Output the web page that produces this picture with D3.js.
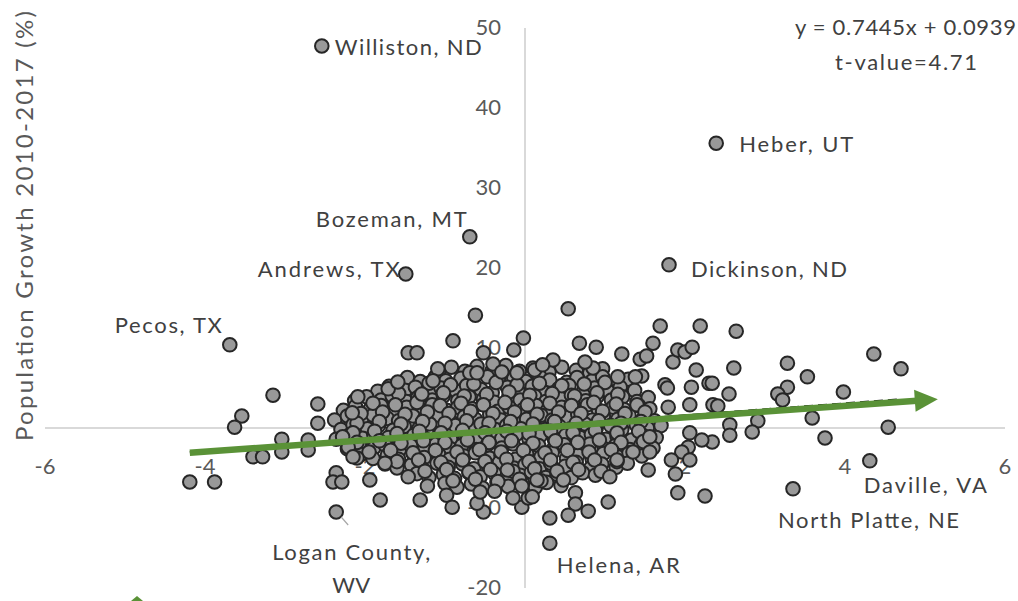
<!DOCTYPE html>
<html>
<head>
<meta charset="utf-8">
<script src="https://cdn.jsdelivr.net/npm/d3@7"></script>
<style>
body { margin: 0; background: #fff; }
svg { display: block; font-family: Lato, "Open Sans", sans-serif; }
</style>
</head>
<body>
<svg id="chart"></svg>
<script>
// tick labels
const xTicks = [-6, -4, -2, 0, 2, 4, 6];
const yTicks = [-20, -10, 0, 10, 20, 30, 40, 50];

// dense middle of the cloud, read row by row (x = employment change, y = population growth %)
const corePoints = [
  [-1.08,7.0],[-0.92,7.6],[-0.75,7.1],[-0.6,7.7],[-0.41,7.2],[-0.24,7.8],[-0.07,7.1],[0.1,7.5],[0.3,7.0],[0.46,7.6],[0.64,7.2],[0.81,6.9],[0.97,7.4],
  [-1.47,6.3],[-1.31,5.8],[-1.12,6.4],[-0.99,5.9],[-0.8,6.2],[-0.66,5.7],[-0.47,6.4],[-0.33,5.9],[-0.14,6.2],[0.01,5.8],[0.18,6.5],[0.31,6.0],[0.52,5.7],[0.65,6.3],[0.84,5.9],[0.97,6.4],[1.16,5.8],[1.29,6.1],
  [-1.84,4.6],[-1.7,5.2],[-1.5,4.7],[-1.37,5.1],[-1.19,4.5],[-1.05,5.0],[-0.86,4.6],[-0.73,5.3],[-0.55,4.8],[-0.41,4.4],[-0.22,5.1],[-0.09,4.7],[0.09,5.2],[0.23,4.5],[0.42,4.9],[0.55,5.3],[0.73,4.6],[0.87,5.0],[1.05,4.5],[1.19,5.1],[1.37,4.7],
  [-2.13,3.4],[-1.98,3.9],[-1.8,3.5],[-1.66,4.0],[-1.48,3.3],[-1.34,3.8],[-1.16,3.5],[-1.02,4.0],[-0.84,3.4],[-0.7,3.9],[-0.52,3.6],[-0.38,3.2],[-0.2,3.9],[-0.06,3.5],[0.12,4.0],[0.26,3.3],[0.44,3.7],[0.58,4.1],[0.76,3.4],[0.9,3.9],[1.08,3.5],[1.22,3.9],[1.4,3.3],[1.54,3.8],
  [-2.27,2.2],[-2.12,2.7],[-1.94,2.3],[-1.8,2.8],[-1.62,2.1],[-1.48,2.6],[-1.3,2.3],[-1.16,2.9],[-0.98,2.2],[-0.84,2.6],[-0.66,2.4],[-0.52,2.9],[-0.34,2.1],[-0.2,2.6],[-0.02,2.3],[0.14,2.8],[0.28,2.2],[0.46,2.6],[0.6,2.4],[0.78,2.9],[0.92,2.2],[1.1,2.6],[1.24,2.3],[1.42,2.8],[1.56,2.4],
  [-2.38,1.0],[-2.22,1.5],[-2.04,1.1],[-1.9,1.6],[-1.72,1.2],[-1.58,0.9],[-1.4,1.5],[-1.26,1.1],[-1.08,1.6],[-0.94,1.0],[-0.76,1.4],[-0.62,1.1],[-0.44,1.7],[-0.3,1.0],[-0.12,1.4],[0.02,1.1],[0.2,1.6],[0.34,1.0],[0.52,1.3],[0.66,1.7],[0.84,1.0],[0.98,1.5],[1.16,1.1],[1.3,1.6],[1.48,1.2],[1.62,0.9],
  [-2.3,-0.2],[-2.15,0.4],[-1.97,-0.1],[-1.83,0.3],[-1.65,-0.3],[-1.51,0.2],[-1.33,-0.1],[-1.19,0.5],[-1.01,-0.2],[-0.87,0.3],[-0.69,0.0],[-0.55,0.5],[-0.37,-0.2],[-0.23,0.3],[-0.05,-0.1],[0.11,0.4],[0.25,-0.2],[0.43,0.2],[0.57,-0.1],[0.75,0.5],[0.89,0.0],[1.07,0.3],[1.21,-0.2],[1.39,0.4],[1.53,0.0],[1.7,0.3],
  [-2.36,-1.4],[-2.2,-0.9],[-2.03,-1.3],[-1.89,-0.8],[-1.71,-1.2],[-1.57,-1.5],[-1.39,-0.9],[-1.25,-1.3],[-1.07,-0.8],[-0.93,-1.4],[-0.75,-1.0],[-0.61,-1.5],[-0.43,-0.9],[-0.29,-1.3],[-0.11,-0.8],[0.05,-1.4],[0.19,-1.0],[0.37,-1.5],[0.51,-0.9],[0.69,-1.2],[0.83,-0.8],[1.01,-1.4],[1.15,-1.0],[1.33,-1.5],[1.47,-0.9],[1.64,-1.2],
  [-2.22,-2.6],[-2.07,-2.0],[-1.89,-2.5],[-1.75,-2.1],[-1.57,-2.7],[-1.43,-2.2],[-1.25,-2.5],[-1.11,-2.0],[-0.93,-2.6],[-0.79,-2.2],[-0.61,-2.7],[-0.47,-2.1],[-0.29,-2.5],[-0.15,-2.0],[0.03,-2.6],[0.17,-2.2],[0.35,-2.7],[0.49,-2.1],[0.67,-2.4],[0.81,-2.0],[0.99,-2.6],[1.13,-2.2],[1.31,-2.7],[1.45,-2.1],[1.6,-2.5],
  [-2.05,-3.3],[-1.9,-3.8],[-1.72,-3.4],[-1.58,-3.9],[-1.4,-3.2],[-1.26,-3.7],[-1.08,-3.3],[-0.94,-3.9],[-0.76,-3.5],[-0.62,-3.1],[-0.44,-3.8],[-0.3,-3.4],[-0.12,-3.9],[0.02,-3.2],[0.2,-3.6],[0.34,-3.1],[0.52,-3.8],[0.66,-3.4],[0.84,-3.9],[0.98,-3.2],[1.16,-3.6],[1.3,-3.1],[1.46,-3.5],
  [-1.75,-4.5],[-1.6,-5.0],[-1.42,-4.6],[-1.28,-5.1],[-1.1,-4.4],[-0.96,-4.9],[-0.78,-4.5],[-0.64,-5.1],[-0.46,-4.7],[-0.32,-4.3],[-0.14,-5.0],[0.0,-4.6],[0.18,-5.1],[0.32,-4.4],[0.5,-4.8],[0.64,-4.3],[0.82,-5.0],[0.96,-4.5],[1.14,-4.9],[1.28,-4.4],
  [-1.35,-5.7],[-1.2,-6.2],[-1.02,-5.8],[-0.88,-6.3],[-0.7,-5.6],[-0.56,-6.1],[-0.38,-5.7],[-0.24,-6.3],[-0.06,-5.9],[0.08,-5.5],[0.26,-6.2],[0.4,-5.8],[0.58,-6.2],[0.72,-5.6],[0.88,-5.9],
  [-1.0,-6.9],[-0.85,-7.4],[-0.67,-7.0],[-0.53,-7.5],[-0.35,-6.8],[-0.21,-7.3],[-0.03,-6.9],[0.13,-7.4],[0.27,-6.8],[0.45,-7.2]
];

// second, overlapping layer in the darkest part of the cloud
const densePoints = [
  [-1.2,5.6],[-0.93,5.4],[-0.64,5.5],[-0.36,5.7],[-0.1,5.4],[0.18,5.6],[0.46,5.3],[0.74,5.5],[1.0,5.7],
  [-1.58,4.3],[-1.3,4.1],[-1.02,4.4],[-0.76,4.0],[-0.48,4.2],[-0.2,4.5],[0.06,4.1],[0.34,4.3],[0.62,4.0],[0.9,4.4],[1.16,4.2],
  [-1.9,3.1],[-1.62,2.9],[-1.35,3.2],[-1.06,2.8],[-0.8,3.1],[-0.52,2.9],[-0.25,3.2],[0.03,2.9],[0.31,3.1],[0.58,2.8],[0.86,3.2],[1.14,3.0],[1.4,2.9],
  [-2.05,1.8],[-1.78,2.0],[-1.5,1.7],[-1.22,2.0],[-0.95,1.8],[-0.68,2.1],[-0.4,1.8],[-0.13,2.0],[0.15,1.7],[0.42,2.0],[0.7,1.8],[0.97,2.1],[1.25,1.8],[1.5,2.0],
  [-2.1,0.6],[-1.82,0.8],[-1.55,0.5],[-1.28,0.8],[-1.0,0.6],[-0.73,0.9],[-0.45,0.6],[-0.18,0.8],[0.1,0.5],[0.37,0.8],[0.64,0.6],[0.92,0.9],[1.2,0.6],[1.45,0.8],
  [-2.15,-0.6],[-1.88,-0.4],[-1.6,-0.7],[-1.32,-0.4],[-1.05,-0.6],[-0.78,-0.3],[-0.5,-0.6],[-0.23,-0.4],[0.05,-0.7],[0.32,-0.4],[0.6,-0.6],[0.88,-0.3],[1.15,-0.6],[1.42,-0.4],
  [-2.1,-1.8],[-1.82,-1.6],[-1.55,-1.9],[-1.27,-1.6],[-1.0,-1.8],[-0.72,-1.5],[-0.45,-1.8],[-0.17,-1.6],[0.1,-1.9],[0.38,-1.6],[0.66,-1.8],[0.93,-1.5],[1.2,-1.8],[1.48,-1.7],
  [-1.95,-3.0],[-1.68,-2.8],[-1.4,-3.1],[-1.12,-2.8],[-0.85,-3.0],[-0.57,-2.7],[-0.3,-3.0],[-0.02,-2.8],[0.25,-3.1],[0.53,-2.8],[0.8,-3.0],[1.08,-2.7],[1.35,-3.0],
  [-1.6,-4.2],[-1.33,-4.0],[-1.05,-4.3],[-0.78,-4.0],[-0.5,-4.2],[-0.23,-3.9],[0.05,-4.2],[0.32,-4.0],[0.6,-4.3],[0.87,-4.0],[1.15,-4.2],
  [-1.25,-5.4],[-0.98,-5.2],[-0.7,-5.5],[-0.43,-5.2],[-0.15,-5.4],[0.12,-5.1],[0.4,-5.4],[0.67,-5.2],[0.95,-5.4],
  [-0.9,-6.6],[-0.62,-6.4],[-0.34,-6.7],[-0.07,-6.4],[0.2,-6.6],[0.48,-6.5]
];

// points around the edge of the cloud
const outerPoints = [
  [-3.15,4.1],[-3.54,1.5],[-3.63,0.1],[-3.04,-1.4],[-3.04,-3.0],[-3.4,-3.6],[-3.28,-3.6],[-2.71,-1.5],[-2.71,-2.75],
  [-2.59,3.0],[-2.59,0.6],[-4.19,-6.75],[-3.88,-6.75],[-2.36,-5.6],[-2.4,-6.75],[-2.29,-6.75],[-1.94,-6.5],[-1.81,-9.0],
  [-1.31,-9.0],[-0.98,-8.4],[-0.91,-9.9],[-0.62,14.1],[-0.9,10.9],[-1.46,9.4],[-1.35,9.4],[-2.09,3.9],[-2.16,1.9],
  [-1.71,4.9],[-1.59,5.75],[-2.28,-1.1],[-2.21,-2.4],[-2.1,-3.75],[-0.02,11.25],[-0.14,9.75],[-0.52,9.4],[-1.09,7.4],
  [-0.4,8.0],[-0.29,7.0],[0.12,7.25],[0.54,14.9],[0.68,10.6],[0.89,10.1],[1.69,12.75],[1.6,10.6],[2.19,12.75],
  [1.21,9.25],[1.44,8.6],[1.52,9.0],[1.46,6.5],[1.38,6.4],[1.85,8.25],[1.91,9.75],[2.0,9.5],[2.09,10.1],[2.14,7.25],
  [2.3,5.6],[2.08,5.1],[1.75,5.4],[1.78,5.0],[1.16,6.4],[0.85,7.5],[0.35,8.5],[1.79,2.6],[2.06,2.9],[2.35,2.9],
  [2.64,12.1],[2.61,7.5],[2.34,5.6],[2.55,4.25],[2.41,2.75],[3.28,8.1],[3.28,5.1],[3.16,4.25],[3.22,3.5],[3.53,6.4],
  [3.98,4.5],[4.36,9.25],[4.7,7.4],[3.59,1.25],[2.91,0.9],[2.84,-0.5],[2.56,0.4],[4.54,0.1],[3.75,-1.25],
  [2.56,-0.9],[2.34,-1.75],[2.21,-1.5],[2.06,-0.6],[2.04,-2.4],[1.96,-3.0],[1.83,-4.0],[2.06,-4.0],[1.88,-5.75],
  [1.54,-5.25],[1.91,-8.1],[2.25,-8.5],[1.04,-9.25],[0.79,-10.4],[0.63,-8.1],[0.63,-9.5],[0.54,-10.9],[0.31,-11.25],
  [-0.04,-9.9],[-0.15,-8.75],[0.04,-8.75],[-0.04,-7.25],[1.06,-6.1],[0.15,-6.5],[0.09,-8.6],[1.56,-1.1],[1.56,-3.0],
  [1.15,-4.0],[-0.52,-10.5],[-0.6,-9.4],[-0.56,-8.0],[-0.38,-7.9],[-1.22,-7.25],[-1.46,-6.1],[-1.75,-4.4],[-2.15,-3.6],
  [-0.22,-5.25],[-1.15,5.9],[-1.29,4.25],[-0.69,6.9],[-0.6,6.9],[-0.1,6.9],[0.75,8.25],[0.22,7.9]
];

// named places
const placeNames = ["Williston, ND", "Heber, UT", "Bozeman, MT", "Andrews, TX", "Dickinson, ND",
  "Pecos, TX", "Logan County, WV", "Helena, AR", "North Platte, NE", "Daville, VA"];
const placeX = [-2.54, 2.39, -0.69, -1.49, 1.8, -3.69, -2.36, 0.31, 3.35, 4.31];
const placeY = [47.75, 35.6, 23.9, 19.25, 20.4, 10.4, -10.5, -14.4, -7.6, -4.1];

// regression
const trendSlope = 0.7445;
const trendIntercept = 0.0939;
const trendXRange = [-4.19, 4.7];
const tValue = 4.71;
const arrowFrom = [-4.19, -3.1];
const arrowTo = [5.16, 3.6];

// label placement in pixels relative to the point
const labelPlacement = {
  "Williston, ND": { dx: 13, dy: 9, anchor: "start", len: 147 },
  "Heber, UT": { dx: 23, dy: 9, anchor: "start", len: 114 },
  "Bozeman, MT": { dx: -3, dy: -10, anchor: "end", len: 151 },
  "Andrews, TX": { dx: -6, dy: 3, anchor: "end", len: 142 },
  "Dickinson, ND": { dx: 22, dy: 12, anchor: "start", len: 156 },
  "Pecos, TX": { dx: -8, dy: -12, anchor: "end", len: 107 },
  "Helena, AR": { dx: 7, dy: 30, anchor: "start", len: 123 },
  "North Platte, NE": { dx: -15, dy: 39, anchor: "start", len: 181 },
  "Daville, VA": { dx: -6, dy: 32, anchor: "start", len: 123 }
};

const width = 1018, height = 601;
const svg = d3.select("#chart").attr("width", width).attr("height", height);

const x = d3.scaleLinear().domain([-6, 6]).range([45, 1005]);
const y = d3.scaleLinear().domain([-20, 50]).range([588, 28]);

const axisColor = "#d9d9d9";
const tickColor = "#595959";
const textColor = "#404040";
const labelSize = 22;

// axis lines crossing at the origin
svg.append("line")
    .attr("x1", x(-6)).attr("x2", x(6))
    .attr("y1", y(0)).attr("y2", y(0))
    .attr("stroke", axisColor).attr("stroke-width", 2);
svg.append("line")
    .attr("x1", x(0)).attr("x2", x(0))
    .attr("y1", y(-20)).attr("y2", y(50))
    .attr("stroke", axisColor).attr("stroke-width", 2);

// tick labels
svg.selectAll(".xtick")
    .data(xTicks)
    .join("text")
    .attr("class", "xtick")
    .attr("x", d => x(d))
    .attr("y", y(0) + 46)
    .attr("text-anchor", "middle")
    .attr("font-size", labelSize)
    .attr("fill", tickColor)
    .text(d => d);

svg.selectAll(".ytick")
    .data(yTicks)
    .join("text")
    .attr("class", "ytick")
    .attr("x", x(0) - 24)
    .attr("y", d => y(d) + 7)
    .attr("text-anchor", "end")
    .attr("font-size", labelSize)
    .attr("fill", tickColor)
    .text(d => d);

// y axis title
svg.append("text")
    .attr("transform", "translate(33,226) rotate(-90)")
    .attr("text-anchor", "middle")
    .attr("font-size", 24)
    .attr("fill", tickColor)
    .attr("textLength", 430)
    .attr("lengthAdjust", "spacing")
    .text("Population Growth 2010-2017 (%)");

// scatter points
const allPoints = corePoints.concat(densePoints, outerPoints, placeX.map((v, i) => [v, placeY[i]]));
svg.append("g")
    .selectAll("circle")
    .data(allPoints)
    .join("circle")
    .attr("cx", d => x(d[0]))
    .attr("cy", d => y(d[1]))
    .attr("r", 6.8)
    .attr("fill", "#999999")
    .attr("stroke", "#262626")
    .attr("stroke-width", 2);

// dashed regression line
const trendLine = d3.line().x(d => x(d)).y(d => y(trendSlope * d + trendIntercept));
svg.append("path")
    .attr("d", trendLine(trendXRange))
    .attr("fill", "none")
    .attr("stroke", "#1a1a1a")
    .attr("stroke-width", 2.2)
    .attr("stroke-dasharray", "9,5");

// green arrow over the trend
const green = "#5a9237";
const ax1 = x(arrowFrom[0]), ay1 = y(arrowFrom[1]);
const ax2 = x(arrowTo[0]), ay2 = y(arrowTo[1]);
const ang = Math.atan2(ay2 - ay1, ax2 - ax1);
const headLen = 23, headHalf = 11;
const bx = ax2 - headLen * Math.cos(ang), by = ay2 - headLen * Math.sin(ang);
svg.append("line")
    .attr("x1", ax1).attr("y1", ay1)
    .attr("x2", bx + 2 * Math.cos(ang)).attr("y2", by + 2 * Math.sin(ang))
    .attr("stroke", green)
    .attr("stroke-width", 6.5);
svg.append("path")
    .attr("d", `M${ax2},${ay2}L${bx - headHalf * Math.sin(ang)},${by + headHalf * Math.cos(ang)}L${bx + headHalf * Math.sin(ang)},${by - headHalf * Math.cos(ang)}Z`)
    .attr("fill", green);

// small green tip cut by the bottom edge
svg.append("path")
    .attr("d", `M${x(-4.85) - 6},${height}L${x(-4.85)},${height - 5}L${x(-4.85) + 6},${height}Z`)
    .attr("fill", green);

// place labels
placeNames.forEach((name, i) => {
    const px = x(placeX[i]), py = y(placeY[i]);
    if (name === "Logan County, WV") {
        svg.append("line")
            .attr("x1", px + 5).attr("y1", py + 5)
            .attr("x2", px + 12).attr("y2", py + 13)
            .attr("stroke", "#a6a6a6").attr("stroke-width", 1.2);
        const t = svg.append("text")
            .attr("text-anchor", "middle")
            .attr("font-size", labelSize)
            .attr("fill", textColor);
        t.append("tspan").attr("x", px + 15).attr("y", py + 48)
            .attr("textLength", 158).attr("lengthAdjust", "spacing").text("Logan County,");
        t.append("tspan").attr("x", px + 15).attr("y", py + 81)
            .attr("textLength", 38).attr("lengthAdjust", "spacing").text("WV");
        return;
    }
    const p = labelPlacement[name];
    svg.append("text")
        .attr("x", px + p.dx)
        .attr("y", py + p.dy)
        .attr("text-anchor", p.anchor)
        .attr("font-size", labelSize)
        .attr("fill", textColor)
        .attr("textLength", p.len)
        .attr("lengthAdjust", "spacing")
        .text(name);
});

// equation box
svg.append("text")
    .attr("x", 1016).attr("y", 35)
    .attr("text-anchor", "end")
    .attr("font-size", labelSize)
    .attr("fill", textColor)
    .attr("textLength", 221)
    .attr("lengthAdjust", "spacing")
    .text(`y = ${trendSlope}x + ${trendIntercept}`);
svg.append("text")
    .attr("x", 906).attr("y", 70)
    .attr("text-anchor", "middle")
    .attr("font-size", labelSize)
    .attr("fill", textColor)
    .attr("textLength", 142)
    .attr("lengthAdjust", "spacing")
    .text(`t-value=${tValue}`);
</script>
</body>
</html>
